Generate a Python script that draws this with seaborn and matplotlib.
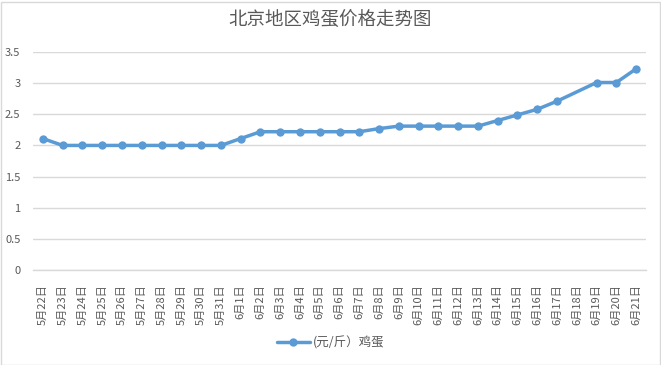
import numpy as np
import pandas as pd
import matplotlib
matplotlib.use("Agg")
import matplotlib.pyplot as plt
import seaborn as sns
from matplotlib.patches import Rectangle

# Données
dates = ["5月22日", "5月23日", "5月24日", "5月25日", "5月26日", "5月27日", "5月28日",
         "5月29日", "5月30日", "5月31日", "6月1日", "6月2日", "6月3日", "6月4日",
         "6月5日", "6月6日", "6月7日", "6月8日", "6月9日", "6月10日", "6月11日",
         "6月12日", "6月13日", "6月14日", "6月15日", "6月16日", "6月17日", "6月18日",
         "6月19日", "6月20日", "6月21日"]
prix = [2.11, 2.0, 2.0, 2.0, 2.0, 2.0, 2.0, 2.0, 2.0, 2.0, 2.11, 2.22, 2.22, 2.22,
        2.22, 2.22, 2.22, 2.27, 2.31, 2.31, 2.31, 2.31, 2.31, 2.40, 2.49, 2.58, 2.71,
        np.nan, 3.01, 3.01, 3.23]
yticks = [0, 0.5, 1, 1.5, 2, 2.5, 3, 3.5]
ytick_labels = ["0", "0.5", "1", "1.5", "2", "2.5", "3", "3.5"]
legende = "(元/斤）鸡蛋"
titre = "北京地区鸡蛋价格走势图"

sns.set_theme(style="white")
plt.rcParams['font.family'] = ['Noto Sans CJK SC', 'DejaVu Sans']

bleu = "#5B9BD5"
gris_txt = "#595959"
gris_ligne = "#D9D9D9"

df = pd.DataFrame({"pos": np.arange(len(dates)), "prix": prix}).dropna()

fig = plt.figure(figsize=(6.61, 3.65), dpi=100)
ax = fig.add_axes([33 / 661, 95 / 365, 613 / 661, 218 / 365])

sns.lineplot(data=df, x="pos", y="prix", ax=ax, color=bleu, linewidth=2.5,
             marker="o", markersize=6, markeredgewidth=0, label=legende)

ax.set_xlim(-0.5, len(dates) - 0.5)
ax.set_ylim(0, 3.5)
ax.set_yticks(yticks)
ax.set_yticklabels(ytick_labels)
ax.set_xticks(np.arange(len(dates)))
ax.set_xticklabels(dates, rotation=90, va="top", ha="center")
ax.set_xticks(np.arange(len(dates) + 1) - 0.5, minor=True)
ax.tick_params(axis="x", which="major", length=0, pad=10, labelsize=8, labelcolor=gris_txt)
ax.tick_params(axis="x", which="minor", length=4, color=gris_ligne, width=1)
ax.tick_params(axis="y", length=0, pad=9, labelsize=8, labelcolor=gris_txt)
ax.set_xlabel("")
ax.set_ylabel("")

ax.grid(axis="y", color=gris_ligne, linewidth=1)
ax.set_axisbelow(True)
for side in ["top", "right", "left"]:
    ax.spines[side].set_visible(False)
ax.spines["bottom"].set_color(gris_ligne)
ax.spines["bottom"].set_linewidth(1)

ax.legend(loc="center", bbox_to_anchor=(331 / 661, 22 / 365), bbox_transform=fig.transFigure,
          frameon=False, fontsize=9, labelcolor=gris_txt, handlelength=2.6, handletextpad=0.3)

fig.text(0.5, 1 - 21 / 365, titre, ha="center", va="center", fontsize=13.3, color=gris_txt)

fig.patches.append(Rectangle((0.5 / 661, 0.5 / 365), 659 / 661, 363 / 365, transform=fig.transFigure,
                             fill=False, edgecolor=gris_ligne, linewidth=1))

fig.savefig("out.png", dpi=100)
